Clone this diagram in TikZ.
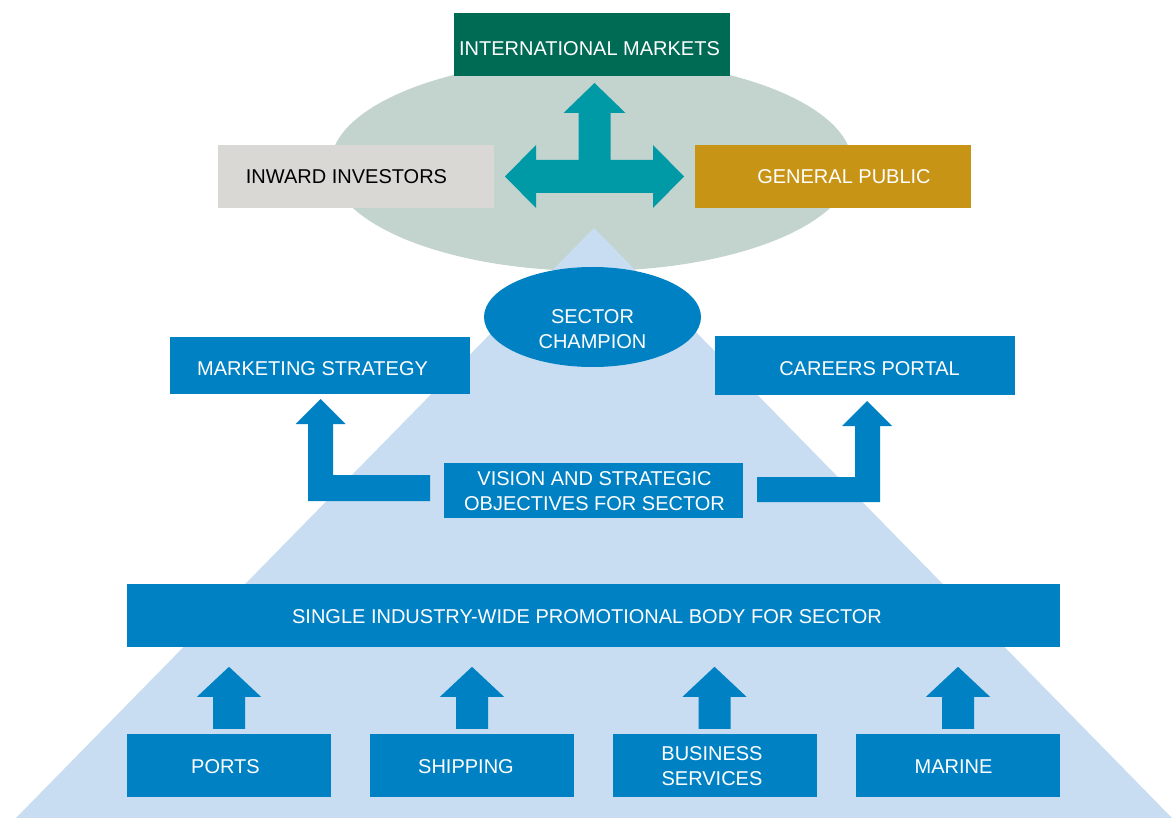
\documentclass[tikz,border=0pt]{standalone}
\usepackage{fontspec}
\setmainfont{Liberation Sans}
\usetikzlibrary{shapes.geometric,calc}
\definecolor{boxblue}{HTML}{0081C3}
\definecolor{pyrblue}{HTML}{C8DDF1}
\definecolor{ellgray}{HTML}{C3D4CF}
\definecolor{dkgreen}{HTML}{006B55}
\definecolor{tealc}{HTML}{009AA7}
\definecolor{goldc}{HTML}{C79415}
\definecolor{lgray}{HTML}{DAD8D5}
\begin{document}
\begin{tikzpicture}[x=1pt,y=-1pt,
  txt/.style={font=\fontsize{20}{25}\selectfont, align=center, inner sep=0pt, text=white},
  shapebox/.style={inner sep=0pt, fill=boxblue},
  arrowfill/.style={fill=boxblue},
]
\useasboundingbox (0,0) rectangle (1173,818);
% background ellipse and pyramid
\node[ellipse, fill=ellgray, minimum width=522, minimum height=212, inner sep=0pt] (bg) at (591.5,165) {};
\fill[pyrblue] (594,228) -- (1172,818) -- (16,818) -- cycle;
% top level boxes
\node[shapebox, fill=dkgreen, minimum width=276, minimum height=63] (intl) at (592,45) {};
\node[txt] (intlT) at ($(intl)+(-2.5,3.3)$) {INTERNATIONAL MARKETS};
\node[shapebox, fill=lgray, minimum width=276, minimum height=63] (inv) at (356,176.5) {};
\node[txt, text=black] (invT) at ($(inv)+(-9.5,0)$) {INWARD INVESTORS};
\node[shapebox, fill=goldc, minimum width=276, minimum height=63] (pub) at (833,176.5) {};
\node[txt] (pubT) at ($(pub)+(11,0)$) {GENERAL PUBLIC};
% teal triple arrow
\fill[tealc] (505,176.5) -- (536,145) -- (536,160) -- (578.5,160) -- (578.5,113) -- (563.5,113) -- (594.5,83)
  -- (625.5,113) -- (610.5,113) -- (610.5,160) -- (653,160) -- (653,145) -- (684,176.5) -- (653,208)
  -- (653,193) -- (536,193) -- (536,208) -- cycle;
% sector champion
\node[shapebox, ellipse, minimum width=217, minimum height=100] (champ) at (592.5,317) {};
\node[txt] (champT) at ($(champ)+(0,12)$) {SECTOR\\CHAMPION};
\node[shapebox, minimum width=300, minimum height=57] (mkt) at (320,365.5) {};
\node[txt] (mktT) at ($(mkt)+(-7.5,3)$) {MARKETING STRATEGY};
\node[shapebox, minimum width=300, minimum height=58] (car) at (865,365.5) {};
\node[txt] (carT) at ($(car)+(4.5,3)$) {CAREERS PORTAL};
\node[shapebox, minimum width=299, minimum height=55] (vis) at (593.5,490.5) {};
\node[txt] (visT) at ($(vis)+(1,1)$) {VISION AND STRATEGIC\\OBJECTIVES FOR SECTOR};
% L-shaped arrows
\fill[arrowfill] (430,475) -- (333,475) -- (333,424) -- (345.5,424) -- (320.5,399) -- (295.5,424)
  -- (308,424) -- (308,501) -- (430,501) -- cycle;
\fill[arrowfill] (757,477) -- (855,477) -- (855,426) -- (842,426) -- (867,401) -- (892,426)
  -- (880,426) -- (880,502) -- (757,502) -- cycle;
% promotional body
\node[shapebox, minimum width=933, minimum height=63] (body) at (593.5,615.5) {};
\node[txt] (bodyT) at ($(body)+(-6.5,1)$) {SINGLE INDUSTRY-WIDE PROMOTIONAL BODY FOR SECTOR};
% bottom boxes
\node[shapebox, minimum width=204, minimum height=63] (ports) at (229,765.5) {};
\node[txt] (portsT) at ($(ports)+(-3.5,1)$) {PORTS};
\node[shapebox, minimum width=204, minimum height=63] (ship) at (472,765.5) {};
\node[txt] (shipT) at ($(ship)+(-6,1)$) {SHIPPING};
\node[shapebox, minimum width=204, minimum height=63] (bus) at (714.5,765.5) {};
\node[txt] (busT) at ($(bus)+(-2.5,1)$) {BUSINESS\\SERVICES};
\node[shapebox, minimum width=204, minimum height=63] (mar) at (958,765.5) {};
\node[txt] (marT) at ($(mar)+(-4.5,1)$) {MARINE};
% small up arrows
\foreach \b in {ports,ship,bus,mar}{
  \fill[arrowfill] ($(\b.north)+(-16,-5)$) -- ++(0,-32) -- ++(-16,0) -- ++(32,-30) -- ++(32,30)
    -- ++(-16,0) -- ++(0,32) -- cycle;
}
\end{tikzpicture}
\end{document}
